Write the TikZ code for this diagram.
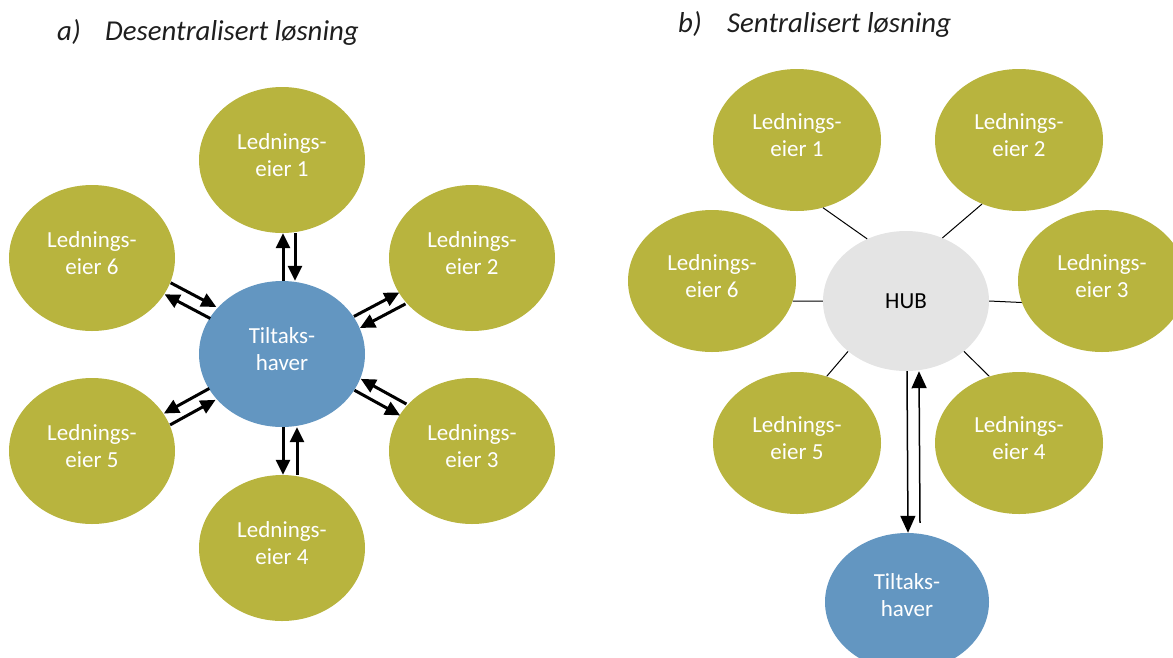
\documentclass[tikz,border=0pt]{standalone}
\usepackage{fontspec}
\setmainfont{Carlito}
\usetikzlibrary{shapes.geometric,arrows.meta,calc}
\definecolor{eiergreen}{RGB}{184,180,62}
\definecolor{tiltblue}{RGB}{99,150,193}
\definecolor{hubgray}{RGB}{228,228,228}
\definecolor{titlegray}{RGB}{30,30,30}
\tikzset{
  eier/.style={ellipse, fill=eiergreen, text=white, inner sep=0pt, align=center,
    font=\fontsize{23}{27}\selectfont, text depth=10pt},
  eierA/.style={eier, minimum width=166, minimum height=146},
  eierB/.style={eier, minimum width=168, minimum height=142},
  tiltak/.style={eier, fill=tiltblue},
  hubnode/.style={ellipse, fill=hubgray, text=black, inner sep=0pt,
    font=\fontsize{23}{27}\selectfont, minimum width=166, minimum height=140},
  title/.style={anchor=base west, inner sep=0pt, text=titlegray,
    font=\fontsize{28.8}{32}\selectfont\itshape},
  arrA/.style={line width=3pt, -{Triangle[length=15pt,width=14pt]}},
  arrB/.style={line width=1.5pt, -{Triangle[length=17pt,width=15pt]}},
  link/.style={line width=1pt, black}
}
\begin{document}
\begin{tikzpicture}[x=1pt,y=1pt,yscale=-1]
\useasboundingbox (0,0) rectangle (1173,657);
\clip (0,0) rectangle (1173,657);

% Titles
\node[title] (titleA) at (57,40) {a)};
\node[title] (textA) at (105,40) {Desentralisert løsning};
\node[title] (titleB) at (678,32) {b)};
\node[title] (textB) at (727,32) {Sentralisert løsning};

%% a) Desentralisert
% Ellipses
\node[eierA] (a1) at (282,160) {Lednings-\\eier 1};
\node[eierA] (a2) at (472,258) {Lednings-\\eier 2};
\node[eierA] (a3) at (472,451) {Lednings-\\eier 3};
\node[eierA] (a4) at (282,548) {Lednings-\\eier 4};
\node[eierA] (a5) at (92,451) {Lednings-\\eier 5};
\node[eierA] (a6) at (92,258) {Lednings-\\eier 6};
\node[tiltak, minimum width=166, minimum height=146] (tiltA) at (282,354) {Tiltaks-\\haver};

% Arrows up / down
\draw[arrA] ([xshift=1pt]tiltA.north) -- ([xshift=1pt]a1.south);
\draw[arrA] ([xshift=13pt]a1.south) -- ([xshift=13pt]tiltA.north);
\draw[arrA] ([xshift=1pt]tiltA.south) -- ([xshift=1pt]a4.north);
\draw[arrA] ([xshift=15pt]a4.north) -- ([xshift=15pt]tiltA.south);
% Arrows eier 6
\draw[arrA] ($(a6.338)!6.5pt!-90:(tiltA.149)$) -- ($(tiltA.149)!6.5pt!90:(a6.338)$);
\draw[arrA] ($(tiltA.149)!6.5pt!-90:(a6.338)$) -- ($(a6.338)!6.5pt!90:(tiltA.149)$);
% Arrows eier 2
\draw[arrA] ($(a2.210)!6.5pt!-90:(tiltA.23)$) -- ($(tiltA.23)!6.5pt!90:(a2.210)$);
\draw[arrA] ($(tiltA.23)!6.5pt!-90:(a2.210)$) -- ($(a2.210)!6.5pt!90:(tiltA.23)$);
% Arrows eier 3
\draw[arrA] ($(a3.149)!6.5pt!90:(tiltA.338)$) -- ($(tiltA.338)!6.5pt!-90:(a3.149)$);
\draw[arrA] ($(tiltA.338)!6.5pt!90:(a3.149)$) -- ($(a3.149)!6.5pt!-90:(tiltA.338)$);
% Arrows eier 5
\draw[arrA] ($(a5.23)!6.5pt!90:(tiltA.210)$) -- ($(tiltA.210)!6.5pt!-90:(a5.23)$);
\draw[arrA] ($(tiltA.210)!6.5pt!90:(a5.23)$) -- ($(a5.23)!6.5pt!-90:(tiltA.210)$);

%% b) Sentralisert
% Ellipses
\node[eierB] (b1) at (797,140) {Lednings-\\eier 1};
\node[eierB] (b2) at (1019,140) {Lednings-\\eier 2};
\node[eierB] (b3) at (1102,281) {Lednings-\\eier 3};
\node[eierB] (b4) at (1019,443) {Lednings-\\eier 4};
\node[eierB] (b5) at (797,443) {Lednings-\\eier 5};
\node[eierB] (b6) at (712,281) {Lednings-\\eier 6};
\node[hubnode] (hub) at (906,301) {HUB};
\node[tiltak, minimum width=164, minimum height=138, text depth=14pt] (tiltB) at (907,602) {Tiltaks-\\haver};

% Lines to HUB
\draw[link] (hub.122) -- (b1.291);
\draw[link] (hub.60) -- (b2.240);
\draw[link] (hub.0) -- (b3.195);
\draw[link] (hub.319) -- (b4.114);
\draw[link] (hub.221) -- (b5.66);
\draw[link] (hub.180) -- (b6.346);

% Arrows HUB / Tiltakshaver
\draw[arrB] ([xshift=1pt]hub.south) -- ([xshift=1pt]tiltB.north);
\draw[arrB] ([shift={(13,-10)}]tiltB.north) -- ([xshift=13pt]hub.south);

\end{tikzpicture}
\end{document}
